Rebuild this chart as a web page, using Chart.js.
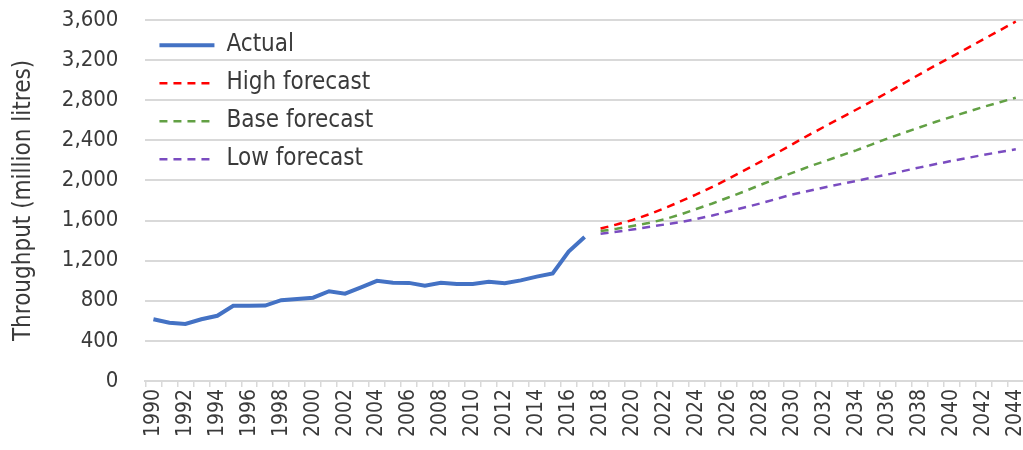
<!DOCTYPE html>
<html>
<head>
<meta charset="utf-8">
<title>Throughput</title>
<script src="https://cdn.jsdelivr.net/npm/chart.js@4.4.1/dist/chart.umd.min.js"></script>
<style>
    html, body { margin: 0; padding: 0; background: #fff; overflow: hidden; }
    #wrap { position: relative; width: 1043px; height: 450px; }
</style>
</head>
<body>
<div id="wrap"><canvas id="chart"></canvas></div>
<script>
var years = ['1990', '1991', '1992', '1993', '1994', '1995', '1996', '1997', '1998', '1999',
             '2000', '2001', '2002', '2003', '2004', '2005', '2006', '2007', '2008', '2009',
             '2010', '2011', '2012', '2013', '2014', '2015', '2016', '2017', '2018', '2019',
             '2020', '2021', '2022', '2023', '2024', '2025', '2026', '2027', '2028', '2029',
             '2030', '2031', '2032', '2033', '2034', '2035', '2036', '2037', '2038', '2039',
             '2040', '2041', '2042', '2043', '2044'];

// 1990 - 2017
var actual = [615, 580, 568, 615, 650, 750, 750, 752, 805, 818,
              830, 895, 870, 933, 998, 980, 978, 950, 978, 968,
              968, 990, 975, 1003, 1040, 1073, 1290, 1435];

// 2018 - 2044
var highForecast = [1520, 1560, 1605, 1660, 1722, 1790, 1860, 1935, 2015, 2100,
                    2185, 2270, 2360, 2450, 2535, 2620, 2705, 2790, 2880, 2970,
                    3060, 3150, 3235, 3322, 3410, 3497, 3585];
var baseForecast = [1495, 1518, 1545, 1575, 1612, 1660, 1715, 1770, 1830, 1890,
                    1955, 2015, 2075, 2135, 2190, 2245, 2300, 2360, 2420, 2475,
                    2530, 2585, 2635, 2685, 2735, 2780, 2825];
var lowForecast = [1468, 1488, 1510, 1535, 1560, 1585, 1615, 1650, 1690, 1730,
                   1770, 1815, 1860, 1895, 1930, 1963, 1995, 2028, 2060, 2095,
                   2130, 2163, 2195, 2225, 2255, 2283, 2310];

var yTicks = [0, 400, 800, 1200, 1600, 2000, 2400, 2800, 3200, 3600];

var fontFamily = "'DejaVu Sans Condensed', 'DejaVu Sans', sans-serif";
var textColor = '#3a3a3a';
var gridColor = '#d9d9d9';

function padForecast(values) {
    var out = [];
    for (var i = 0; i < actual.length; i++) out.push(null);
    return out.concat(values);
}

document.addEventListener('DOMContentLoaded', function () {
    var ctx = document.getElementById('chart').getContext('2d');

    new Chart(ctx, {
        type: 'line',
        data: {
            labels: years,
            datasets: [{
                label: 'Actual',
                data: actual,
                borderColor: '#4472c4',
                backgroundColor: '#4472c4',
                borderWidth: 4,
                pointRadius: 0,
                fill: false
            }, {
                label: 'High forecast',
                data: padForecast(highForecast),
                borderColor: '#ff0000',
                backgroundColor: '#ff0000',
                borderWidth: 2.5,
                borderDash: [8, 6],
                pointRadius: 0,
                fill: false
            }, {
                label: 'Base forecast',
                data: padForecast(baseForecast),
                borderColor: '#62a044',
                backgroundColor: '#62a044',
                borderWidth: 2.5,
                borderDash: [8, 6],
                pointRadius: 0,
                fill: false
            }, {
                label: 'Low forecast',
                data: padForecast(lowForecast),
                borderColor: '#7a4cc0',
                backgroundColor: '#7a4cc0',
                borderWidth: 2.5,
                borderDash: [8, 6],
                pointRadius: 0,
                fill: false
            }]
        },
        options: {
            responsive: true,
            maintainAspectRatio: false,
            animation: false,
            layout: {
                padding: { top: 20, left: 9, right: 0, bottom: 11 }
            },
            plugins: {
                legend: {
                    position: 'chartArea',
                    align: 'start',
                    fullSize: false,
                    // empty title only pushes the rows down inside the plot
                    title: { display: true, text: ' ', font: { size: 1 }, padding: { top: 18, bottom: 0 } },
                    labels: {
                        usePointStyle: true,
                        pointStyle: 'line',
                        pointStyleWidth: 55,
                        padding: 14,
                        color: textColor,
                        font: { family: fontFamily, size: 24 },
                        generateLabels: function (chart) {
                            var items = Chart.defaults.plugins.legend.labels.generateLabels(chart);
                            items.forEach(function (item) {
                                var ds = chart.data.datasets[item.datasetIndex];
                                item.lineDash = ds.borderDash || [];
                                item.lineWidth = ds.borderWidth;
                                item.strokeStyle = ds.borderColor;
                            });
                            return items;
                        }
                    }
                },
                tooltip: { enabled: false }
            },
            scales: {
                x: {
                    offset: true,
                    grid: {
                        offset: true,
                        drawOnChartArea: false,
                        tickLength: 6,
                        color: gridColor,
                        lineWidth: 1.5
                    },
                    border: { display: true, color: gridColor, width: 2 },
                    ticks: {
                        autoSkip: false,
                        minRotation: 90,
                        maxRotation: 90,
                        padding: 2,
                        color: textColor,
                        font: { family: fontFamily, size: 21 },
                        callback: function (value, index) {
                            return index % 2 === 0 ? years[index] : '';
                        }
                    }
                },
                y: {
                    min: yTicks[0],
                    max: yTicks[yTicks.length - 1],
                    afterBuildTicks: function (scale) {
                        scale.ticks = yTicks.map(function (v) { return { value: v }; });
                    },
                    // invisible tick marks keep the gap between labels and plot
                    grid: { color: gridColor, lineWidth: 2, drawTicks: true, tickLength: 24, tickColor: 'rgba(0,0,0,0)' },
                    border: { display: false },
                    ticks: {
                        padding: 3,
                        color: textColor,
                        font: { family: fontFamily, size: 22 },
                        callback: function (value) {
                            return value.toLocaleString('en-US');
                        }
                    },
                    title: {
                        display: true,
                        text: 'Throughput (million litres)',
                        color: textColor,
                        font: { family: fontFamily, size: 24 },
                        padding: { top: 0, bottom: 21 }
                    }
                }
            }
        }
    });
});
</script>
</body>
</html>
